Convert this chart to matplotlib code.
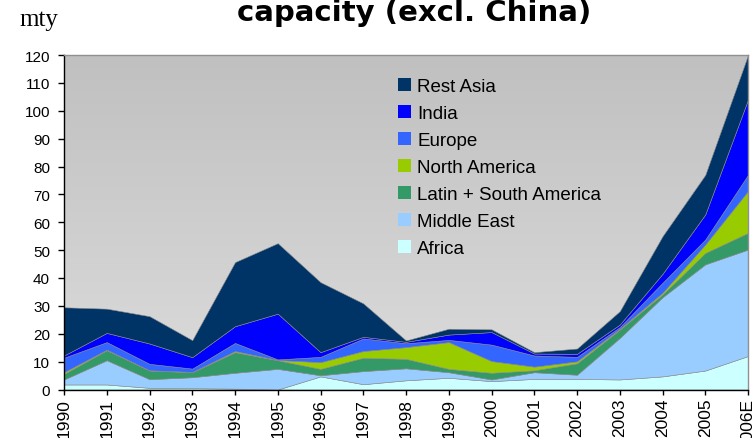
import numpy as np
import matplotlib
matplotlib.use("Agg")
import matplotlib.pyplot as plt
from matplotlib.patches import Patch
from matplotlib.colors import LinearSegmentedColormap

years = ["1990", "1991", "1992", "1993", "1994", "1995", "1996", "1997", "1998",
         "1999", "2000", "2001", "2002", "2003", "2004", "2005", "2006E"]

africa = [1.8, 1.8, 0.6, 0.5, 0.3, 0.0, 4.7, 1.9, 3.3, 4.2, 3.0, 3.8, 3.8, 3.6, 4.7, 6.8, 12.0]
middle_east = [1.8, 8.7, 3.1, 3.9, 5.7, 7.4, 0.4, 4.7, 4.3, 2.0, 0.6, 2.4, 1.5, 14.9, 28.4, 38.1, 38.2]
latin_south_america = [2.0, 3.6, 3.1, 1.8, 7.4, 3.1, 2.3, 4.8, 3.4, 1.2, 2.4, 0.7, 4.1, 3.0, 1.0, 4.1, 6.0]
north_america = [0.6, 0.2, 0.1, 0.1, 0.4, 0.1, 2.4, 2.4, 4.2, 9.6, 4.2, 1.3, 0.7, 0.3, 0.6, 3.0, 15.0]
europe = [5.2, 2.7, 2.3, 1.2, 2.9, 0.2, 1.9, 4.5, 1.4, 0.8, 5.9, 4.0, 1.6, 0.6, 3.6, 1.8, 5.8]
india = [0.8, 3.3, 7.3, 4.1, 6.0, 16.4, 1.7, 0.6, 0.5, 1.9, 4.5, 0.7, 1.1, 0.9, 3.2, 9.0, 27.0]
rest_asia = [17.3, 8.7, 9.8, 6.1, 23.0, 25.3, 25.1, 12.0, 0.5, 2.1, 1.0, 0.5, 1.9, 4.8, 13.5, 14.2, 16.0]

series_names = ["Africa", "Middle East", "Latin + South America", "North America",
                "Europe", "India", "Rest Asia"]
series = [africa, middle_east, latin_south_america, north_america, europe, india, rest_asia]
colors = ["#CCFFFF", "#99CCFF", "#339966", "#99CC00", "#3366FF", "#0000FF", "#003366"]

yticks = list(range(0, 121, 10))

W, H = 754, 439
fig = plt.figure(figsize=(W / 100, H / 100), dpi=100)
ax = fig.add_axes([64 / W, (H - 390.5) / H, 684 / W, 334.5 / H])

x = np.arange(len(years))
ax.set_xlim(0, len(years) - 1)
ax.set_ylim(0, 120)

# gradient background
grad = np.linspace(0, 1, 256).reshape(-1, 1)
cmap = LinearSegmentedColormap.from_list("bg", ["#DCDCDC", "#C0C0C0"])
ax.imshow(grad, extent=[0, len(years) - 1, 0, 120], origin="lower", aspect="auto",
          cmap=cmap, zorder=0)

ax.stackplot(x, *series, colors=colors, zorder=2, linewidth=0.4, edgecolor="#8a8a8a")

ax.set_yticks(yticks)
ax.set_yticklabels([str(v) for v in yticks], fontsize=11, family="Liberation Sans")
ax.set_xticks(x)
ax.set_xticklabels(years, rotation=90, fontsize=12.5, family="Liberation Sans")
ax.tick_params(axis="y", direction="out", length=4.5, width=1, color="black", pad=5.5)
ax.tick_params(axis="x", direction="out", length=3.5, width=1, color="black", pad=2.5)

for s in ["left", "bottom"]:
    ax.spines[s].set_color("black")
    ax.spines[s].set_linewidth(1)
for s in ["top", "right"]:
    ax.spines[s].set_color("#909090")
    ax.spines[s].set_linewidth(1)

handles = [Patch(facecolor=c, edgecolor="none") for c in colors[::-1]]
labels = series_names[::-1]
fs = 13.5
leg = ax.legend(handles, labels, loc="upper left",
                bbox_to_anchor=((398 - 64) / 684, 1 - (79 - 56) / 334.5),
                frameon=False, prop={"family": "Liberation Sans", "size": fs},
                handlelength=0.71, handleheight=0.68, handletextpad=0.32,
                labelspacing=0.53, borderaxespad=0, borderpad=0)

fig.text(414 / W, 1 - 21 / H, "capacity (excl. China)", ha="center", va="baseline",
         fontsize=21, fontweight="bold", family="DejaVu Sans")
fig.text(19 / W, 1 - 26 / H, "mty", ha="left", va="baseline", fontsize=18,
         family="Liberation Serif")

fig.savefig("out.png", dpi=100)
